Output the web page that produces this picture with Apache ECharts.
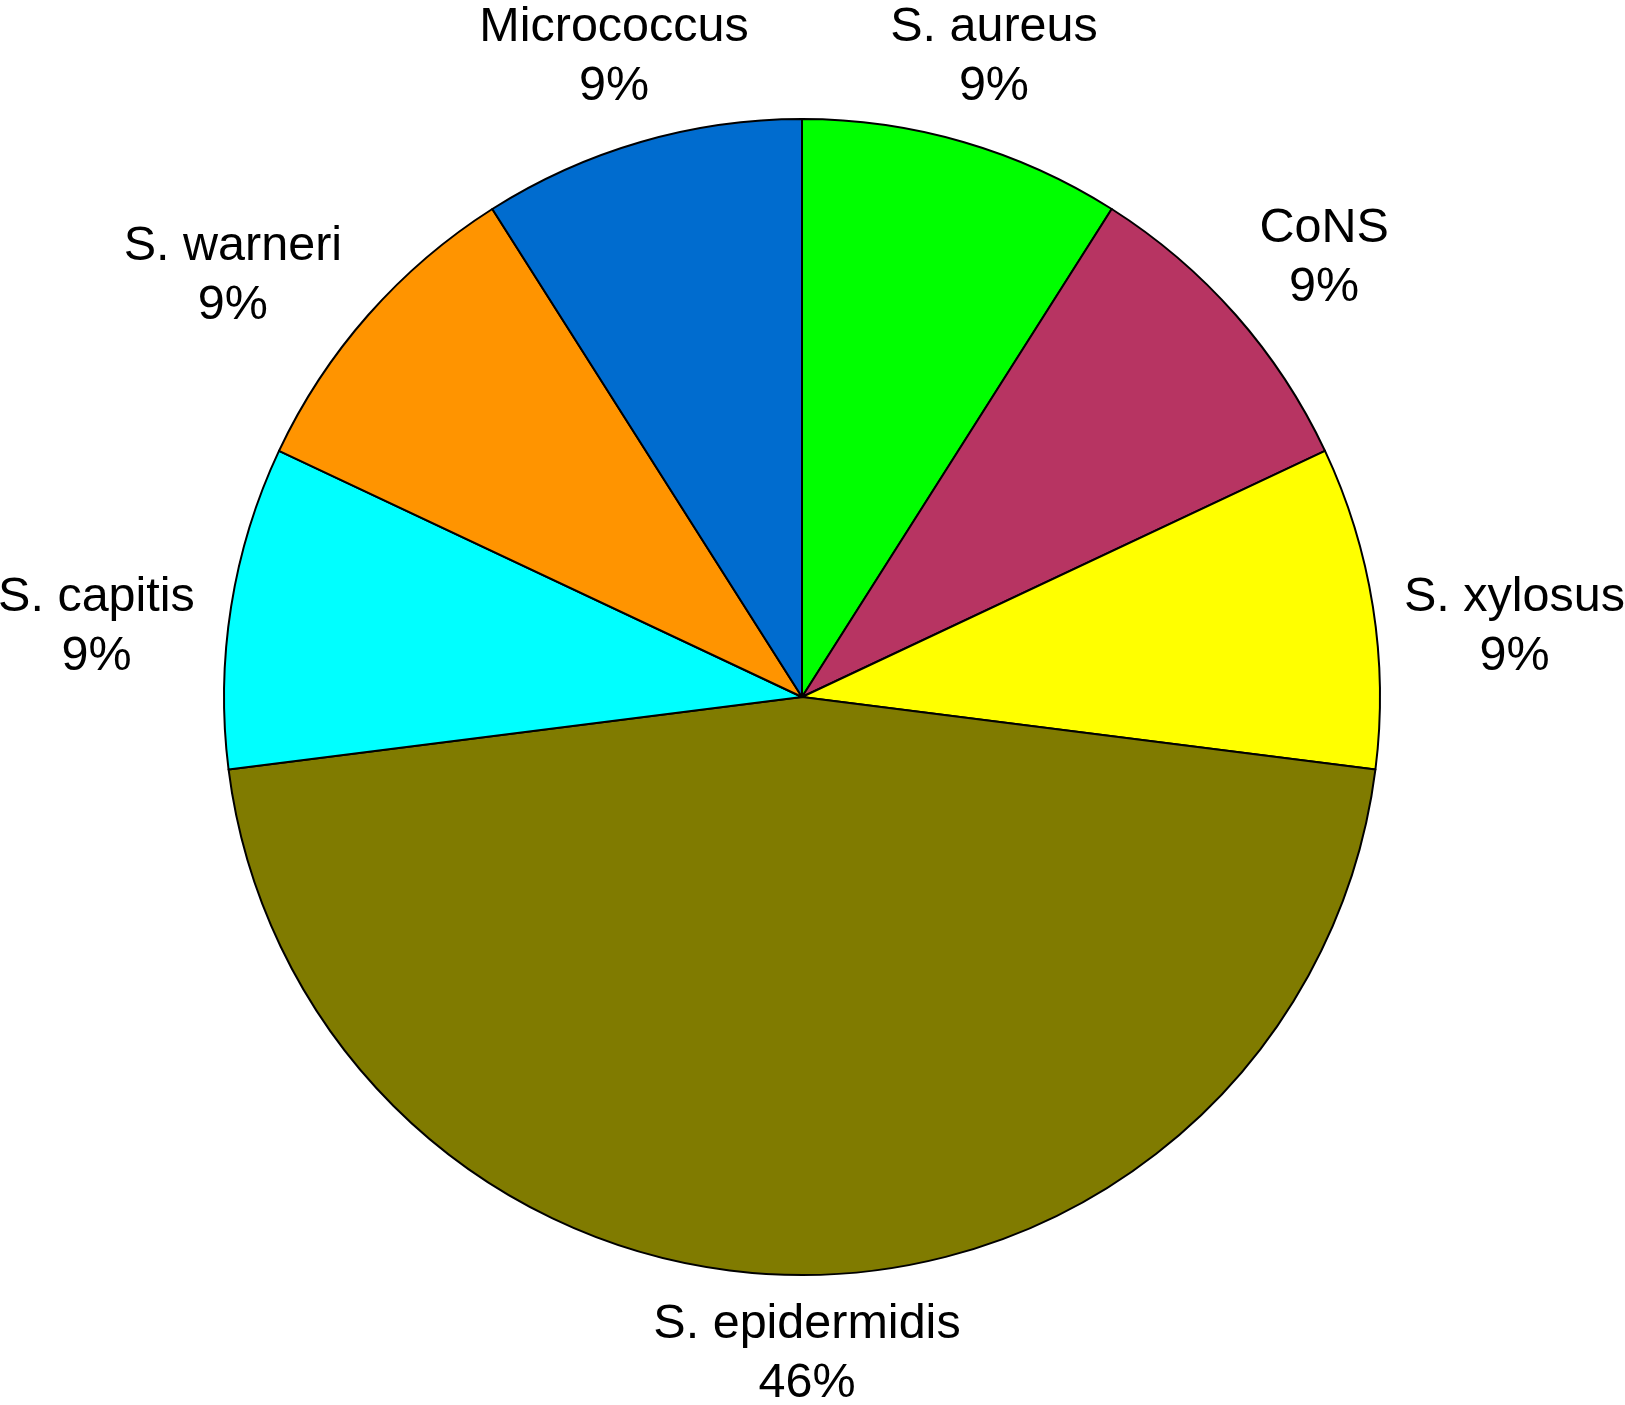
<!DOCTYPE html>
<html><head><meta charset="utf-8">
<style>html,body{margin:0;padding:0;background:#fff}#c{width:1625px;height:1405px}</style>
<script src="https://cdn.jsdelivr.net/npm/echarts@6/dist/echarts.min.js"></script>
</head><body><div id="c"></div>
<script>
// Clockwise from 12 o'clock
const categories = ['S. aureus', 'CoNS', 'S. xylosus', 'S. epidermidis', 'S. capitis', 'S. warneri', 'Micrococcus'];
const percentages = [9, 9, 9, 46, 9, 9, 9];
const colors = ['#00ff00', '#b73462', '#ffff00', '#807b00', '#00ffff', '#ff9400', '#006ccf'];

// label fine-tuning (style only), in px
const labelNudges = [[0, 21], [6, 16], [33, 38], [5, -31], [-26, 38], [-53, 34], [4, 21]];

const chart = echarts.init(document.getElementById('c'), null, {renderer: 'canvas'});
const sliceData = categories.map((n, i) => ({name: n, value: percentages[i], itemStyle: {color: colors[i]}}));
const labelData = categories.map((n, i) => ({name: n, value: percentages[i], label: {offset: labelNudges[i]}}));
chart.setOption({
  animation: false,
  backgroundColor: '#ffffff',
  series: [
    {
      type: 'pie',
      center: [802, 697],
      radius: [0, 578],
      startAngle: 90,
      clockwise: true,
      data: sliceData,
      label: {show: false},
      labelLine: {show: false},
      itemStyle: {borderColor: '#000', borderWidth: 2},
      emphasis: {disabled: true},
      silent: true
    },
    {
      type: 'pie',
      center: [802, 697],
      radius: [668, 702],
      startAngle: 90,
      clockwise: true,
      data: labelData,
      itemStyle: {color: 'rgba(0,0,0,0)', borderWidth: 0},
      label: {
        show: true,
        position: 'inside',
        formatter: p => p.name + '\n' + p.value + '%',
        fontFamily: 'Liberation Sans, Arial, Helvetica, sans-serif',
        fontSize: 48.5,
        lineHeight: 59,
        color: '#000',
        align: 'center'
      },
      labelLine: {show: false},
      emphasis: {disabled: true},
      silent: true
    }
  ]
});
</script></body></html>
